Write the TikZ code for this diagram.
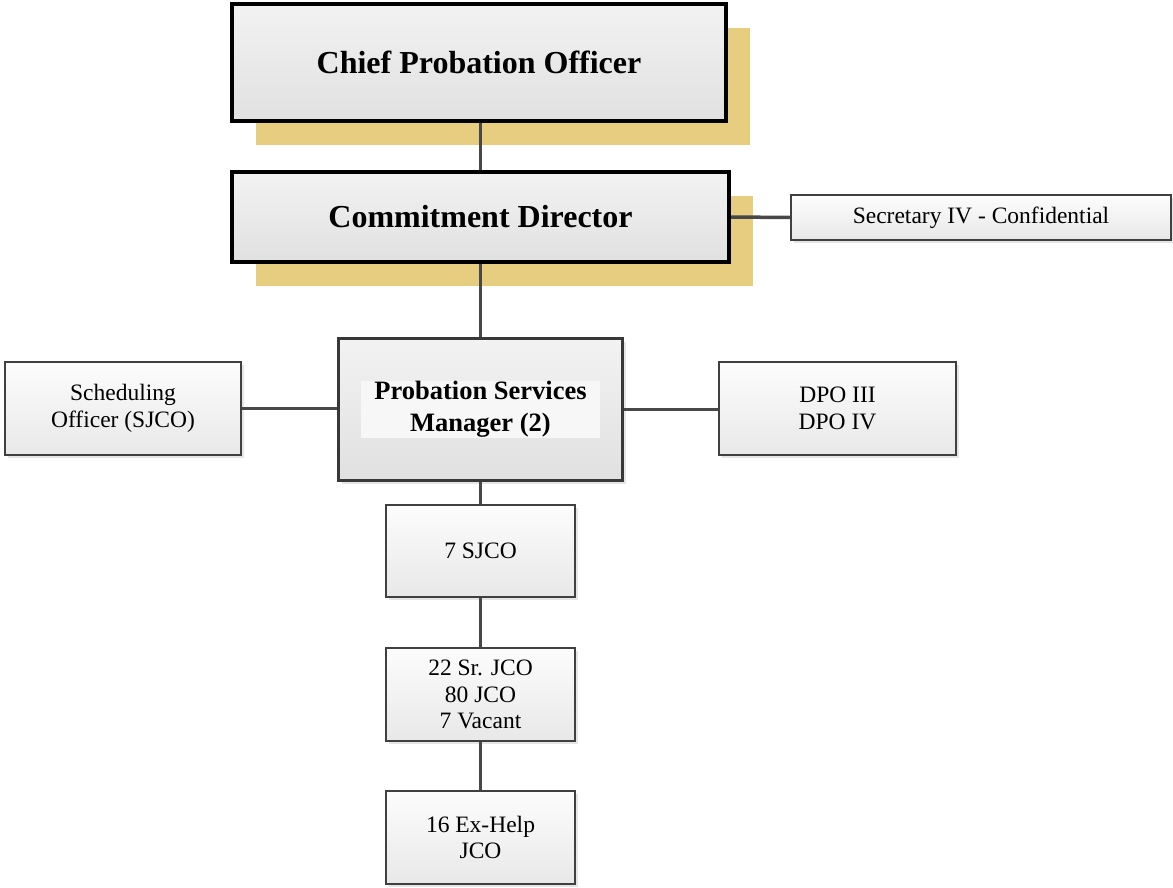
\documentclass[tikz,border=0pt]{standalone}
\usepackage{fontspec}
\setmainfont{Liberation Serif}
\usetikzlibrary{shadows}

\definecolor{shadowgold}{RGB}{230,205,128}
\definecolor{linkgray}{RGB}{72,72,72}

\begin{document}
\begin{tikzpicture}[x=1pt, y=-1pt,
  head/.style={draw=black, line width=4pt, top color=black!5, bottom color=black!12,
    font=\fontsize{32}{36}\selectfont\bfseries, inner sep=0pt,
    drop shadow={shadow xshift=24pt, shadow yshift=-24pt, fill=shadowgold, opacity=1}},
  mgr/.style={draw=black!78, line width=3pt, top color=black!5, bottom color=black!12, inner sep=0pt,
    drop shadow={shadow xshift=3pt, shadow yshift=-3pt, fill=black!10, opacity=1}},
  unit/.style={draw=black!75, line width=2.5pt, top color=black!1, bottom color=black!9,
    font=\fontsize{23.5}{26.5}\selectfont, align=center, inner sep=0pt,
    drop shadow={shadow xshift=3pt, shadow yshift=-3pt, fill=black!10, opacity=1}},
  link/.style={draw=linkgray, line width=3.5pt}
]
\useasboundingbox (0,0) rectangle (1173,888);
% top of the chart
\node[head, minimum width=494pt, minimum height=117pt] (cpo) at (479,62.5) {Chief Probation Officer};
\node[head, minimum width=497pt, minimum height=90pt] (dir) at (480.5,217) {Commitment Director};
\node[unit, minimum width=380pt, minimum height=45pt] (sec) at (981,217.5) {Secretary IV - Confidential};
% managers and side units
\node[mgr, minimum width=284pt, minimum height=142pt] (psm) at (480.5,409.5) {};
\node[fill=black!3, minimum width=239pt, minimum height=48pt, inner sep=0pt, align=center,
  font=\fontsize{26.5}{32}\selectfont\bfseries] (psmtext) at (psm.center) {Probation Services\\Manager (2)};
\node[unit, minimum width=236pt, minimum height=93pt] (sched) at (123,408.5) {Scheduling\\Officer (SJCO)};
\node[unit, minimum width=237pt, minimum height=93pt] (dpo) at (837.5,408.5) {DPO III\\DPO IV};
% officers
\node[unit, minimum width=189pt, minimum height=92pt] (sjco) at (480.5,551) {7 SJCO};
\node[unit, minimum width=189pt, minimum height=93pt] (jco) at (480.5,694.5) {22 Sr. JCO\\80 JCO\\7 Vacant};
\node[unit, minimum width=189pt, minimum height=93pt] (exhelp) at (480.5,837.5) {16 Ex-Help\\JCO};
% connectors
\draw[link] (cpo.south -| dir.north) -- (dir.north);
\draw[link] (dir.east) -- (sec.west);
\draw[link] (dir.south) -- (psm.north);
\draw[link] (sched.east) -- (sched.east -| psm.west);
\draw[link] (psm.east) -- (psm.east -| dpo.west);
\draw[link] (psm.south) -- (sjco.north);
\draw[link] (sjco.south) -- (jco.north);
\draw[link] (jco.south) -- (exhelp.north);
\end{tikzpicture}
\end{document}
